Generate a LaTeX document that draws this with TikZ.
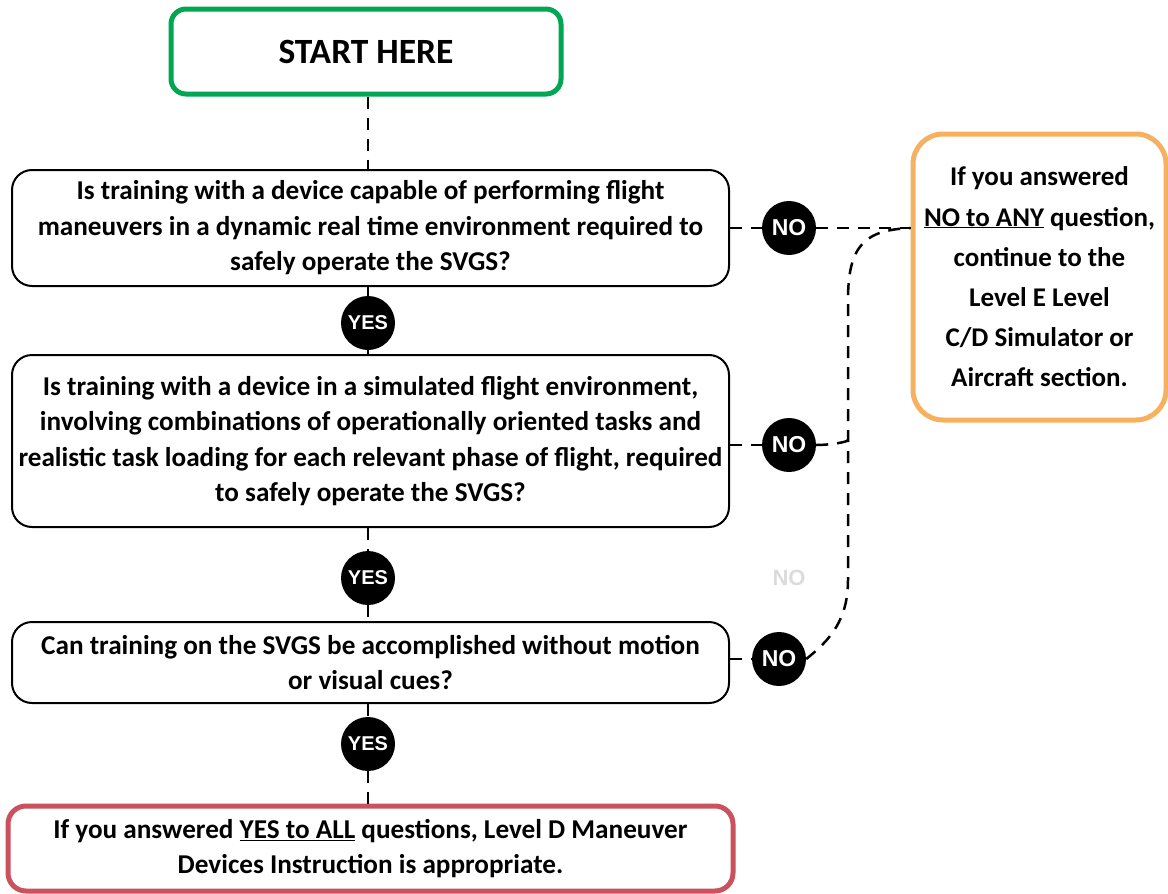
\documentclass[tikz,border=0pt]{standalone}
\usepackage{fontspec}
\setmainfont{Carlito}
\newfontfamily\circfont{Liberation Sans}
\usetikzlibrary{calc}
\definecolor{startgreen}{RGB}{0,166,81}
\definecolor{endred}{RGB}{201,82,94}
\definecolor{noorange}{RGB}{245,177,96}
\begin{document}
\begin{tikzpicture}[x=1pt,y=-1pt,
  qbox/.style={draw=black, line width=2pt, rounded corners=20pt, align=center,
    inner sep=0pt, font=\fontsize{27.2}{35.5}\selectfont\bfseries},
  startbox/.style={draw=startgreen, line width=5pt, rounded corners=15pt,
    minimum width=390pt, minimum height=85pt, inner sep=0pt,
    font=\fontsize{35.5}{40}\selectfont\bfseries},
  endbox/.style={draw=endred, line width=5pt, rounded corners=18pt, align=center,
    minimum width=725pt, minimum height=85pt, inner sep=0pt,
    font=\fontsize{27.2}{35}\selectfont\bfseries},
  sidebox/.style={draw=noorange, line width=5pt, rounded corners=30pt, align=center,
    minimum width=253pt, minimum height=286pt, inner sep=0pt,
    font=\fontsize{27}{40.2}\selectfont\bfseries},
  dot/.style={circle, fill=black, minimum size=54pt, inner sep=0pt,
    text=white, font=\circfont\fontsize{20}{20}\selectfont\bfseries},
  nodot/.style={dot, font=\circfont\fontsize{23}{23}\selectfont\bfseries},
  link/.style={line width=2.5pt, dash pattern=on 12pt off 9pt},
  solidlink/.style={line width=2.5pt}
]
\useasboundingbox (0,0) rectangle (1168,894);

% boxes
\node[startbox] (start) at (366,51.5) {START HERE};
\node[qbox, minimum width=717pt, minimum height=116pt] (q1) at (370.5,228)
  {Is training with a device capable of performing flight\\
   maneuvers in a dynamic real time environment required to\\
   safely operate the SVGS?};
\node[qbox, minimum width=717pt, minimum height=172pt] (q2) at (370.5,441)
  {Is training with a device in a simulated flight environment,\\
   involving combinations of operationally oriented tasks and\\
   realistic task loading for each relevant phase of flight, required\\
   to safely operate the SVGS?};
\node[qbox, minimum width=717pt, minimum height=81pt] (q3) at (370.5,662.5)
  {Can training on the SVGS be accomplished without motion\\
   or visual cues?};
\node[endbox] (end) at (370.5,848.5)
  {If you answered \underline{YES to ALL} questions, Level D Maneuver\\
   Devices Instruction is appropriate.};
\node[sidebox] (side) at (1039.5,277)
  {If you answered\\
   \underline{NO to ANY} question,\\
   continue to the\\
   Level E Level\\
   C/D Simulator or\\
   Aircraft section.};

% answer markers
\node[dot] (y1) at (368,323) {YES};
\node[dot] (y2) at (368,578) {YES};
\node[dot] (y3) at (368,744) {YES};
\node[nodot] (n1) at (789,228) {NO};
\node[nodot] (n2) at (789,445) {NO};
\node[nodot] (n3) at (779,659) {NO};
\node[text=gray!28, font=\circfont\fontsize{22}{22}\selectfont\bfseries] (ghost) at (789,578) {NO};

% vertical flow
\draw[link] (start.south -| 368,0) -- (q1.north -| 368,0);
\draw[solidlink] (q1.south -| y1) -- (y1);
\draw[solidlink] (y1) -- (q2.north -| y1);
\draw[link] (q2.south -| y2) -- (y2);
\draw[link] (y2) -- (q3.north -| y2);
\draw[link] (q3.south -| y3) -- (y3);
\draw[link] (y3) -- (end.north -| y3);

% NO branches
\coordinate (join) at (848,440);
\draw[link] (q1.east) -- (n1);
\draw[link] (q2.east |- n2) -- (n2);
\draw[link] (q3.east |- n3) -- (n3);
\draw[link] (n1) -- (side.west |- n1);
\draw[link] (n2.east) .. controls (830,445) and (848,442) .. (join);
\draw[link] (n3.east) .. controls (830,640) and (848,620) .. (848,580)
  -- (join) -- (848,300) .. controls (848,245) and (865,230) .. (side.west |- n1);
\end{tikzpicture}
\end{document}
